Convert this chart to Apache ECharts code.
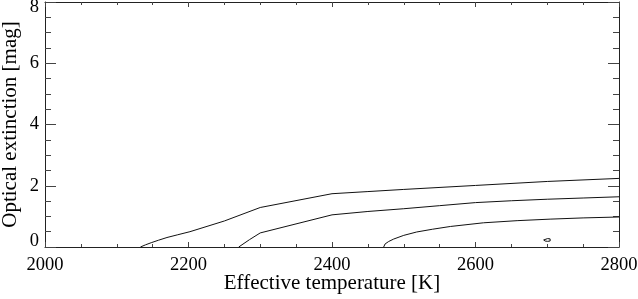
<!DOCTYPE html>
<html>
<head>
<meta charset="utf-8">
<script src="https://cdn.jsdelivr.net/npm/echarts@6/dist/echarts.min.js"></script>
<style>
html,body{margin:0;padding:0;background:#fff;}
#chart{width:638px;height:299px;}
</style>
</head>
<body>
<div id="chart"></div>
<script>
// Axis settings
const xTicks = [2000, 2200, 2400, 2600, 2800];
const yTicks = [0, 2, 4, 6, 8];
const xTitle = 'Effective temperature [K]';
const yTitle = 'Optical extinction [mag]';

// Contour lines: [temperature, extinction]
const contour1 = [[2133,0],[2140,0.07],[2148,0.14],[2158,0.22],[2170,0.31],[2185,0.4],[2202,0.5],[2250,0.85],[2300,1.29],[2400,1.74],[2450,1.81],[2500,1.88],[2600,2.01],[2700,2.14],[2800,2.24]];
const contour2 = [[2270,0],[2285,0.24],[2300,0.46],[2400,1.05],[2450,1.16],[2500,1.25],[2550,1.35],[2600,1.45],[2650,1.51],[2700,1.56],[2750,1.6],[2800,1.64]];
const contour3 = [[2472,0],[2474,0.1],[2479,0.18],[2486,0.26],[2500,0.38],[2518,0.49],[2540,0.58],[2565,0.67],[2611,0.79],[2658,0.86],[2704,0.91],[2750,0.95],[2800,0.98]];
const island = [[2695,0.23],[2697,0.265],[2700.5,0.275],[2704,0.265],[2706,0.23],[2704,0.195],[2700.5,0.185],[2697,0.195],[2695,0.23]];

const FONT = 'Liberation Serif';
const AXC = '#222';

function xAx(pos, labels) {
  return {
    type: 'value', position: pos, min: xTicks[0], max: xTicks[xTicks.length-1], interval: 200,
    name: labels ? xTitle : '', nameLocation: 'middle', nameGap: 26, nameMoveOverlap: false,
    nameTextStyle: {fontFamily: FONT, fontSize: 21, color: '#000'},
    axisLine: {show: true, onZero: false, lineStyle: {color: AXC, width: 1}},
    axisTick: {show: true, inside: true, length: 5, lineStyle: {color: '#444'}},
    minorTick: {show: true, splitNumber: 4, length: 3, lineStyle: {color: '#444'}},
    splitLine: {show: false}, minorSplitLine: {show: false},
    axisLabel: {show: labels, margin: 9, fontFamily: FONT, fontSize: 18.5, color: '#000',
      formatter: function (v) { return String(v); }}
  };
}
function yAx(pos, labels) {
  return {
    type: 'value', position: pos, min: yTicks[0], max: yTicks[yTicks.length-1], interval: 2,
    name: labels ? yTitle : '', nameLocation: 'middle', nameGap: 24, nameMoveOverlap: false,
    nameTextStyle: {fontFamily: FONT, fontSize: 21, color: '#000'},
    axisLine: {show: true, onZero: false, lineStyle: {color: AXC, width: 1}},
    axisTick: {show: true, inside: true, length: 11, lineStyle: {color: '#444'}},
    minorTick: {show: true, splitNumber: 4, length: 6, lineStyle: {color: '#444'}},
    splitLine: {show: false}, minorSplitLine: {show: false},
    axisLabel: {
      show: labels, margin: 6, fontFamily: FONT, fontSize: 18.5, color: '#000',
      formatter: function (v) {
        if (v === yTicks[0]) return '{lo|' + v + '}';
        if (v === yTicks[yTicks.length-1]) return '{hi|' + v + '}';
        return '{n|' + v + '}';
      },
      rich: {
        lo: {fontFamily: FONT, fontSize: 18.5, color: '#000', padding: [0,0,12,0]},
        hi: {fontFamily: FONT, fontSize: 18.5, color: '#000', padding: [11,0,0,0]},
        n: {fontFamily: FONT, fontSize: 18.5, color: '#000'}
      }
    }
  };
}

function lineSeries(data) {
  return {
    type: 'line', data: data, xAxisIndex: 0, yAxisIndex: 0,
    showSymbol: false, symbol: 'none', smooth: false, silent: true,
    lineStyle: {color: '#111', width: 1}, animation: false
  };
}

const chart = echarts.init(document.getElementById('chart'), null, {renderer: 'canvas'});
chart.setOption({
  animation: false,
  backgroundColor: '#fff',
  grid: {left: 45, right: 19, top: 2, bottom: 52, containLabel: false, outerBoundsMode: 'none'},
  xAxis: [xAx('bottom', true), xAx('top', false)],
  yAxis: [yAx('left', true), yAx('right', false)],
  series: [lineSeries(contour1), lineSeries(contour2), lineSeries(contour3), lineSeries(island)]
});
</script>
</body>
</html>
